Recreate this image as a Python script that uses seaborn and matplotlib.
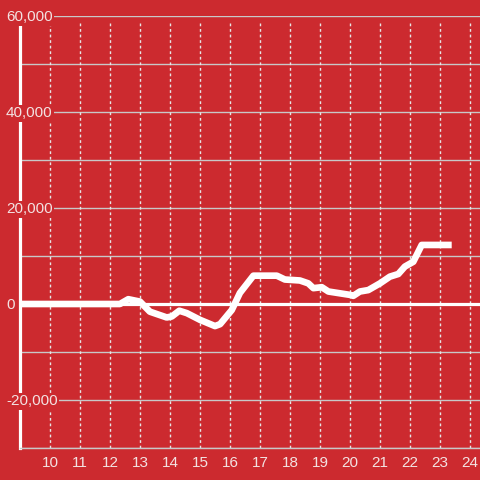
import matplotlib
matplotlib.use("Agg")
import matplotlib.pyplot as plt
import seaborn as sns
import pandas as pd

# data
hours = [9.0, 12.33, 12.61, 13.0, 13.33, 13.89, 14.06, 14.31, 14.56, 15.0,
         15.5, 15.67, 16.06, 16.33, 16.78, 17.56, 17.83, 18.33, 18.61, 18.78,
         19.06, 19.28, 20.0, 20.11, 20.33, 20.61, 21.0, 21.33, 21.61, 21.83,
         22.11, 22.39, 23.39]
values = [0, 0, 1000, 500, -1600, -2800, -2600, -1400, -1900, -3300,
          -4600, -4200, -1250, 2300, 5900, 5900, 5100, 4900, 4300, 3300,
          3500, 2600, 1900, 1700, 2600, 2900, 4300, 5700, 6250, 7800,
          8800, 12300, 12300]
x_ticks = list(range(10, 25))
y_labels = [60000, 40000, 20000, 0, -20000]

bg = "#cc2a2f"
df = pd.DataFrame({"hour": hours, "value": values})

sns.set_theme(style="white")
plt.rcParams["font.family"] = ["Liberation Sans", "DejaVu Sans"]

fig = plt.figure(figsize=(4.8, 4.8), dpi=100, facecolor=bg)
ax = fig.add_axes([20 / 480, 32 / 480, 460 / 480, 432 / 480])
ax.set_facecolor(bg)

ax.set_xlim(9, 9 + 460 / 30)
ax.set_ylim(-30000, 60000)

# grid
for y in range(-30000, 60001, 10000):
    if y != 0:
        ax.axhline(y, color="#c8c8c8", lw=1.0, zorder=1)
ax.vlines(x_ticks, -30000, 58500, color="#e6e6e6", lw=1.0,
          linestyles=(0, (2, 2)), zorder=1)
ax.axhline(0, color="white", lw=2.3, zorder=2)

sns.lineplot(data=df, x="hour", y="value", color="white", lw=4.8,
             solid_capstyle="butt", solid_joinstyle="round", ax=ax, zorder=4)

for s in ["top", "right"]:
    ax.spines[s].set_visible(False)
ax.spines["left"].set_color("white")
ax.spines["left"].set_linewidth(2.3)
ax.spines["left"].set_bounds(-30000, 58400)
ax.spines["bottom"].set_color("#c8c8c8")
ax.spines["bottom"].set_linewidth(1.0)

ax.set_xticks(x_ticks)
ax.set_xticklabels([str(t) for t in x_ticks])
ax.set_yticks([])
ax.tick_params(axis="x", length=0, pad=6, labelsize=11, labelcolor="#f3e2e2")
ax.set_xlabel("")
ax.set_ylabel("")

for y in y_labels:
    ax.text(-14 / 460, y - 300, f"{y:,}", transform=ax.get_yaxis_transform(),
            ha="left", va="center", fontsize=11, color="#f3e2e2",
            bbox=dict(facecolor=bg, edgecolor="none", pad=1.0),
            zorder=10, clip_on=False)

fig.savefig("out.png", dpi=100, facecolor=bg)
